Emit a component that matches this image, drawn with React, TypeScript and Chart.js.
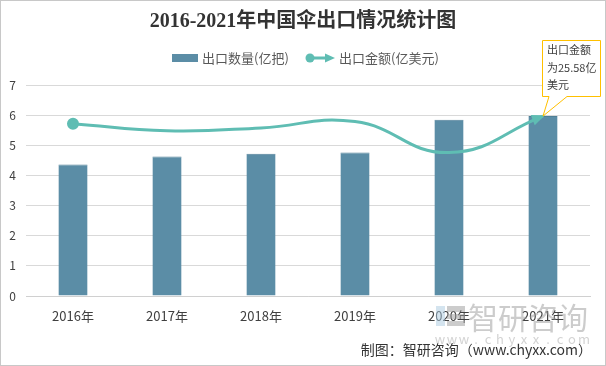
import React, { useEffect, useRef } from "react";
import { Chart, registerables } from "chart.js";

Chart.register(...registerables);

const title = "2016-2021年中国伞出口情况统计图";
const categories = ["2016年", "2017年", "2018年", "2019年", "2020年", "2021年"];
const exportQuantity = [4.36, 4.63, 4.72, 4.76, 5.85, 5.97]; // 亿把
const exportValue = [24.5, 23.5, 23.9, 24.8, 20.4, 25.58]; // 亿美元
const leftTicks = [0, 1, 2, 3, 4, 5, 6, 7];
const seriesNames = ["出口数量(亿把)", "出口金额(亿美元)"];
const calloutLines = ["出口金额", "为25.58亿", "美元"];
const sourceText = "制图：智研咨询（www.chyxx.com）";
const watermarkUrl = "www.chyxx.com";

const BAR = "#5B8DA6";
const LINE = "#5FBDB3";
const FONT = "'Noto Sans CJK SC', 'Noto Sans', sans-serif";

function arrowHead(ctx: CanvasRenderingContext2D, x: number, y: number, ang: number, len: number, w: number) {
  ctx.save();
  ctx.translate(x, y);
  ctx.rotate(ang);
  ctx.beginPath();
  ctx.moveTo(2, 0);
  ctx.lineTo(-len, -w);
  ctx.lineTo(-len, w);
  ctx.closePath();
  ctx.fill();
  ctx.restore();
}

const decorPlugin = {
  id: "decor",
  beforeDraw(chart: any) {
    const ctx = chart.ctx as CanvasRenderingContext2D;
    ctx.save();
    ctx.fillStyle = "#fff";
    ctx.fillRect(0, 0, chart.width, chart.height);
    ctx.strokeStyle = "#C8C8C8";
    ctx.lineWidth = 1;
    ctx.strokeRect(0.5, 0.5, chart.width - 1, chart.height - 1);
    ctx.restore();
  },
  afterDatasetsDraw(chart: any) {
    const ctx = chart.ctx as CanvasRenderingContext2D;
    const meta = chart.getDatasetMeta(1);
    const pts = meta.data;
    const last = pts[pts.length - 1];
    const cpx = last.cp1x ?? pts[pts.length - 2].x;
    const cpy = last.cp1y ?? pts[pts.length - 2].y;
    const ang = Math.atan2(last.y - cpy, last.x - cpx);
    ctx.save();
    ctx.fillStyle = LINE;
    arrowHead(ctx, last.x, last.y, ang, 11, 5.5);
    ctx.restore();
  },
  afterDraw(chart: any) {
    const ctx = chart.ctx as CanvasRenderingContext2D;
    const W = chart.width;
    ctx.save();
    // title
    ctx.fillStyle = "#333";
    ctx.font = `bold 20px 'Liberation Serif', 'Noto Sans CJK SC', serif`;
    ctx.textAlign = "center";
    ctx.textBaseline = "middle";
    ctx.fillText(title, W / 2, 22);

    // legend
    ctx.font = `13px ${FONT}`;
    ctx.textAlign = "left";
    ctx.fillStyle = BAR;
    ctx.fillRect(172, 54, 26, 8);
    ctx.fillStyle = "#595959";
    ctx.fillText(seriesNames[0], 202, 58);
    ctx.strokeStyle = LINE;
    ctx.fillStyle = LINE;
    ctx.lineWidth = 3;
    ctx.beginPath();
    ctx.moveTo(310, 58);
    ctx.lineTo(328, 58);
    ctx.stroke();
    ctx.beginPath();
    ctx.arc(310, 58, 4.5, 0, Math.PI * 2);
    ctx.fill();
    arrowHead(ctx, 333, 58, 0, 8, 4.5);
    ctx.fillStyle = "#595959";
    ctx.fillText(seriesNames[1], 339, 58);

    // callout
    const meta = chart.getDatasetMeta(1);
    const last = meta.data[meta.data.length - 1];
    const bx = last.x - 1, by = 40, bw = 58, bh = 56;
    ctx.fillStyle = "#fff";
    ctx.strokeStyle = "#FFC000";
    ctx.lineWidth = 1;
    ctx.beginPath();
    ctx.moveTo(bx + 0.5, by + 0.5);
    ctx.lineTo(bx + bw + 0.5, by + 0.5);
    ctx.lineTo(bx + bw + 0.5, by + bh + 0.5);
    ctx.lineTo(bx + 25, by + bh + 0.5);
    ctx.lineTo(last.x, last.y);
    ctx.lineTo(bx + 7, by + bh + 0.5);
    ctx.lineTo(bx + 0.5, by + bh + 0.5);
    ctx.closePath();
    ctx.fill();
    ctx.stroke();
    ctx.fillStyle = "#404040";
    ctx.font = `11px ${FONT}`;
    ctx.textBaseline = "middle";
    calloutLines.forEach((t, i) => ctx.fillText(t, bx + 5, by + 10 + i * 17.5));

    // watermark
    ctx.globalAlpha = 0.5;
    ctx.fillStyle = "#A9C9E0";
    ctx.fillRect(436, 306, 9, 20);
    ctx.fillStyle = "#9A9A9A";
    ctx.fillRect(447, 306, 18, 6);
    ctx.fillRect(447, 314, 18, 5);
    ctx.fillRect(447, 321, 18, 5);
    ctx.font = `30px ${FONT}`;
    ctx.textBaseline = "middle";
    ctx.fillText("智研咨询", 468, 318);
    ctx.font = `13px ${FONT}`;
    ctx.fillStyle = "#A8A8A8";
    ctx.textAlign = "center";
    watermarkUrl.split("").forEach((c, i) => ctx.fillText(c, 440 + i * 12, 339));
    ctx.globalAlpha = 1;

    ctx.fillStyle = "#333";
    ctx.font = `14px ${FONT}`;
    ctx.textAlign = "right";
    ctx.fillText(sourceText, 592, 350);
    ctx.restore();
  },
};

export default function App() {
  const ref = useRef<HTMLCanvasElement | null>(null);
  useEffect(() => {
    document.body.style.margin = "0";
    if (!ref.current) return;
    const chart = new Chart(ref.current, {
      type: "bar",
      data: {
        labels: categories,
        datasets: [
          {
            type: "bar",
            label: seriesNames[0],
            data: exportQuantity,
            backgroundColor: BAR,
            borderColor: "#4F7F96",
            borderWidth: { top: 1, left: 0, right: 0, bottom: 0 },
            borderSkipped: "bottom",
            barPercentage: 0.62,
            categoryPercentage: 0.5,
            yAxisID: "y",
            order: 2,
          },
          {
            type: "line",
            label: seriesNames[1],
            data: exportValue,
            borderColor: LINE,
            backgroundColor: LINE,
            borderWidth: 3,
            tension: 0.45,
            pointRadius: [4.5, 0, 0, 0, 0, 0],
            pointHoverRadius: 0,
            yAxisID: "y1",
            order: 1,
          },
        ],
      },
      options: {
        animation: false,
        responsive: false,
        maintainAspectRatio: false,
        layout: { padding: { top: 85, right: 16, left: 0, bottom: 0 } },
        plugins: { legend: { display: false }, title: { display: false }, tooltip: { enabled: false } },
        scales: {
          x: {
            grid: { display: false, drawTicks: false },
            border: { display: true, color: "#D0D0D0" },
            ticks: { color: "#404040", font: { size: 13, family: FONT }, padding: 12 },
            afterFit: (s: any) => { s.height = 70; },
          },
          y: {
            min: 0,
            max: 7,
            afterBuildTicks: (s: any) => { s.ticks = leftTicks.map((v) => ({ value: v })); },
            grid: { color: "#D9D9D9", drawTicks: false },
            border: { display: false },
            ticks: { color: "#404040", font: { size: 12, family: FONT }, padding: 10 },
            afterFit: (s: any) => { s.width = 26; },
          },
          y1: { display: false, min: 0, max: 30 },
        },
      },
      plugins: [decorPlugin],
    } as any);
    return () => chart.destroy();
  }, []);
  return (
    <div style={{ width: 606, height: 366 }}>
      <canvas ref={ref} width={606} height={366} style={{ display: "block" }} />
    </div>
  );
}
